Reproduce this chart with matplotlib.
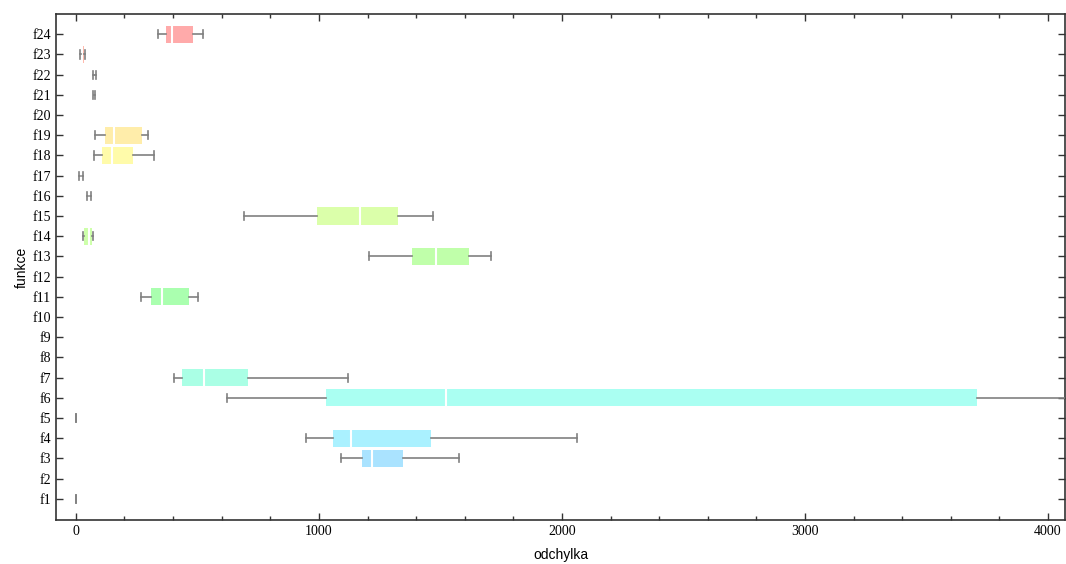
import colorsys
import matplotlib
matplotlib.use("Agg")
import matplotlib.pyplot as plt
from matplotlib.ticker import MultipleLocator

# ---- data ----
functions = [f"f{i}" for i in range(1, 25)]
whis_lo = [-1, None, 1089, 945, -1, 621, 403, None, None, None, 267, None, 1206, 29, 691, 45, 12, 74, 78, None, 69, 72, 16, 337]
q1 =      [-0.5, None, 1176, 1058, -0.5, 1029, 436, None, None, None, 309, None, 1383, 33, 992, 49, 15, 107, 119, None, 71, 74, 21, 370]
median =  [0.0, None, 1218, 1131, 0.0, 1523, 527, None, None, None, 354, None, 1481, 53, 1169, 54, 20, 148, 157, None, 73, 76, 27, 395]
q3 =      [0.5, None, 1348, 1460, 0.5, 3708, 708, None, None, None, 465, None, 1617, 66, 1325, 60, 26, 235, 272, None, 76, 79, 33, 481]
whis_hi = [1, None, 1576, 2062, 1, 4400, 1119, None, None, None, 502, None, 1708, 70, 1469, 62, 29, 321, 296, None, 78, 81, 38, 523]
x_ticks = [0, 1000, 2000, 3000, 4000]

# ---- build stats for the library ----
stats, positions, colors = [], [], []
for i, name in enumerate(functions):
    if median[i] is None:
        continue
    stats.append(dict(label=name, whislo=whis_lo[i], q1=q1[i], med=median[i],
                      q3=q3[i], whishi=whis_hi[i], fliers=[]))
    positions.append(i + 1)
    hue = (9.5 * (24 - (i + 1))) / 360.0
    colors.append(colorsys.hsv_to_rgb(hue, 1 / 3, 1.0))

fig = plt.figure(figsize=(10.66, 5.64), dpi=100)
ax = fig.add_axes([0.0525, 0.078, 0.9465, 0.897])

bp = ax.bxp(stats, positions=positions, vert=False, widths=0.85,
            patch_artist=True, showfliers=False, capwidths=0.4,
            whiskerprops=dict(color="#808080", lw=1.2, zorder=3),
            capprops=dict(color="#808080", lw=1.2, zorder=3),
            medianprops=dict(color="white", lw=1.5, zorder=2.5),
            boxprops=dict(lw=0))
for patch, c in zip(bp["boxes"], colors):
    patch.set_facecolor(c)
    patch.set_edgecolor(c)

ax.set_xlim(-82, 4070)
ax.set_ylim(-0.05, 25)
ax.set_yticks(range(1, 25))
ax.set_yticklabels(functions, family="Liberation Serif", fontsize=10)
ax.set_xticks(x_ticks)
ax.set_xticklabels([str(t) for t in x_ticks], family="Liberation Serif", fontsize=10)
ax.xaxis.set_minor_locator(MultipleLocator(200))

ax.tick_params(axis="both", which="major", direction="in", top=True, right=True,
               length=5, width=1, color="#333333")
ax.tick_params(axis="x", which="minor", direction="in", top=True, bottom=True,
               length=3, width=1, color="#333333")
for s in ax.spines.values():
    s.set_color("#333333")
    s.set_linewidth(1.2)

ax.set_xlabel("odchylka", family="Liberation Sans", fontsize=10, labelpad=7)
ax.set_ylabel("funkce", family="Liberation Sans", fontsize=10, labelpad=3)

fig.savefig("out.png", dpi=100)
